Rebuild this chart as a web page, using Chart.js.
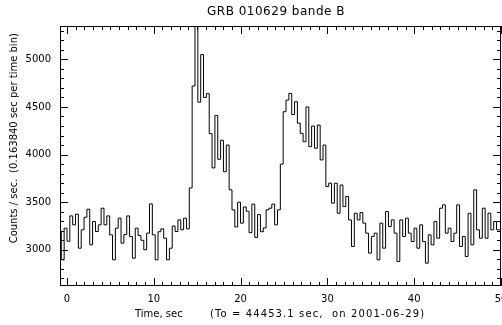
<!DOCTYPE html>
<html>
<head>
<meta charset="utf-8">
<script src="https://cdn.jsdelivr.net/npm/chart.js@4.4.1/dist/chart.umd.min.js"></script>
<style>
    html, body { margin: 0; padding: 0; background: #fff; }
    #wrap { width: 502px; height: 325px; }
</style>
</head>
<body>
<div id="wrap"><canvas id="grb-chart" width="502" height="325"></canvas></div>
<script>
(function () {
    "use strict";

    // Light curve, counts/sec per bin
    const binStart = -0.65;
    const binWidth = 0.32768;
    const counts = [
        3200, 2895, 3227, 3090, 3356, 3262, 3374, 3017, 3210, 3342,
        3426, 3052, 3297, 3192, 3262, 3437, 3262, 3356, 3157, 2895,
        3227, 3332, 3070, 3160, 3356, 3140, 2912, 3227, 3150, 3100,
        3000, 3175, 3482, 3157, 2895, 3190, 3220, 3122, 2895, 3017,
        3250, 3192, 3314, 3210, 3332, 3220,
        // first pulse
        3650, 4720, 5400, 4550, 5050, 4600, 4640, 4220, 3860, 4410,
        3950, 4150, 3820, 4100, 3630, 3420, 3240, 3500, 3280, 3450,
        // between pulses
        3405, 3180, 3480, 3130, 3370, 3190, 3230, 3420, 3437, 3480,
        3262, 3420,
        // second pulse
        3900, 4450, 4572, 4642, 4420, 4555, 4330, 4223, 4135, 4500,
        4083, 4300, 4066, 4310, 3944, 4100, 3664, 3700, 3490, 3700,
        3384, 3680, 3454, 3559, 3314, 3035, 3384,
        // tail
        3314, 3391, 3280, 3175, 2965, 3140, 3175, 2895, 3280, 3017,
        3402, 3245, 3314, 3175, 2877, 3314, 3140, 3332, 3175, 3087,
        3227, 3017, 3262, 3087, 2860, 3157, 3052, 3297, 3122, 3437,
        3472, 3175, 3227, 3087, 3175, 3472, 3035, 3140, 2930, 3384,
        3052, 3630, 3210, 3122, 3437, 3122, 3384, 3210, 3297, 3210,
        3210,
    ];

    const xMajorTicks = [0, 10, 20, 30, 40, 50];
    const yMajorTicks = [3000, 3500, 4000, 4500, 5000];
    const xRange = [-0.8, 50];
    const yRange = [2620, 5350];

    const titleText = "GRB 010629 bande B";
    const xTitleLeft = "Time, sec";
    const xTitleRight = "(To = 44453.1 sec,  on 2001-06-29)";
    const yTitleLower = "Counts / sec.";
    const yTitleUpper = "(0.163840 sec per time bin)";

    const points = counts.map((c, i) => ({ x: binStart + i * binWidth, y: c }));
    points.push({ x: binStart + counts.length * binWidth, y: counts[counts.length - 1] });

    const FONT = "'DejaVu Sans', sans-serif";

    // IDL-like frame with inward ticks on all four sides + text
    const idlFrame = {
        id: "idlFrame",
        afterDraw(chart) {
            const ctx = chart.ctx;
            const a = chart.chartArea;
            const xs = chart.scales.x;
            const ys = chart.scales.y;
            ctx.save();
            ctx.strokeStyle = "#000";
            ctx.lineWidth = 1;
            ctx.strokeRect(Math.round(a.left) + 0.5, Math.round(a.top) + 0.5,
                Math.round(a.right - a.left) - 1, Math.round(a.bottom - a.top) - 1);

            ctx.beginPath();
            for (let t = Math.ceil(xRange[0]); t <= xRange[1]; t++) {
                const px = Math.round(xs.getPixelForValue(t)) + 0.5;
                const len = xMajorTicks.includes(t) ? 8 : 4;
                ctx.moveTo(px, a.bottom);
                ctx.lineTo(px, a.bottom - len);
                ctx.moveTo(px, a.top);
                ctx.lineTo(px, a.top + len);
            }
            for (let v = Math.ceil(yRange[0] / 100) * 100; v <= yRange[1]; v += 100) {
                const py = Math.round(ys.getPixelForValue(v)) + 0.5;
                const len = yMajorTicks.includes(v) ? 8 : 4;
                ctx.moveTo(a.left, py);
                ctx.lineTo(a.left + len, py);
                ctx.moveTo(a.right, py);
                ctx.lineTo(a.right - len, py);
            }
            ctx.stroke();

            ctx.fillStyle = "#000";
            ctx.font = "10px " + FONT;
            ctx.textBaseline = "middle";
            ctx.textAlign = "center";
            xMajorTicks.forEach((t) => {
                ctx.fillText(String(t), xs.getPixelForValue(t), 299);
            });
            ctx.textAlign = "right";
            yMajorTicks.forEach((v) => {
                ctx.fillText(String(v), 51, ys.getPixelForValue(v));
            });

            ctx.textAlign = "left";
            ctx.fillText(xTitleLeft, 135, 314);
            ctx.letterSpacing = "1.1px";
            ctx.fillText(xTitleRight, 210, 314);
            ctx.letterSpacing = "0.5px";

            ctx.font = "12px " + FONT;
            ctx.textAlign = "center";
            ctx.fillText(titleText, 276, 12);

            ctx.font = "10px " + FONT;
            ctx.letterSpacing = "0px";
            ctx.translate(14, 0);
            ctx.rotate(-Math.PI / 2);
            ctx.fillText(yTitleLower, -211, 0);
            ctx.fillText(yTitleUpper, -103, 0);
            ctx.restore();
        },
    };

    new Chart(document.getElementById("grb-chart"), {
        type: "line",
        data: {
            datasets: [
                {
                    label: "counts",
                    data: points,
                    stepped: "after",
                    borderWidth: 1,
                    borderColor: "#000",
                    backgroundColor: "transparent",
                    pointRadius: 0,
                    fill: false,
                },
            ],
        },
        options: {
            responsive: false,
            animation: false,
            layout: {
                padding: { left: 60, right: 1, top: 26, bottom: 39 },
            },
            plugins: {
                legend: { display: false },
                tooltip: { enabled: false },
            },
            scales: {
                x: {
                    type: "linear",
                    min: xRange[0],
                    max: xRange[1],
                    display: false,
                },
                y: {
                    type: "linear",
                    min: yRange[0],
                    max: yRange[1],
                    display: false,
                },
            },
        },
        plugins: [idlFrame],
    });
})();
</script>
</body>
</html>
